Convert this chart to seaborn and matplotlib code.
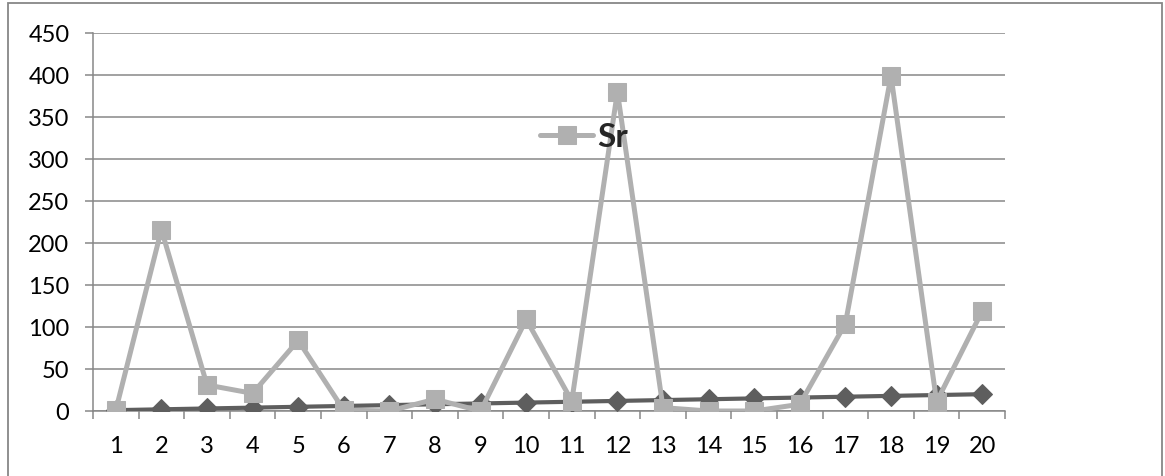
import matplotlib
matplotlib.use("Agg")
import matplotlib.pyplot as plt
from matplotlib.patches import Rectangle
import numpy as np
import pandas as pd
import seaborn as sns

# Sample numbers and the two measured series
samples = list(range(1, 21))
base_values = [1, 2, 3, 4, 5, 6, 7, 8, 9, 10, 11, 12, 13, 14, 15, 16, 17, 18, 19, 20]
sr_values = [1, 216, 31, 21, 84, 1, 0, 14, 0, 109, 12, 380, 4, 0, 0, 8, 104, 399, 11, 119]
y_ticks = [0, 50, 100, 150, 200, 250, 300, 350, 400, 450]

sns.set_theme(style="white")
plt.rcParams["font.family"] = ["Lato", "DejaVu Sans"]

grid_col = "#878787"
dark_col = "#5e5e5e"
light_col = "#b0b0b0"

df = pd.DataFrame({"sample": samples, "base": base_values, "Sr": sr_values})

fig = plt.figure(figsize=(11.65, 4.77), dpi=100)
ax = fig.add_axes([93 / 1165, 1 - 412 / 477, 912 / 1165, 378 / 477])

# Outer chart frame
fig.patches.append(Rectangle((8 / 1165, -0.1), 1154 / 1165, 1.1 - 4 / 477,
                             transform=fig.transFigure, fill=False,
                             edgecolor=grid_col, linewidth=1.3, zorder=0))

sns.lineplot(data=df, x="sample", y="base", ax=ax, color=dark_col,
             linewidth=3.0, marker="D", markersize=10.5,
             markeredgecolor=dark_col, legend=False, zorder=3)
sns.lineplot(data=df, x="sample", y="Sr", ax=ax, color=light_col,
             linewidth=3.6, marker="s", markersize=13.5,
             markeredgecolor=light_col, label="Sr", zorder=4)

ax.set_xlim(0.5, 20.5)
ax.set_ylim(0, 450)
ax.set_yticks(y_ticks)
ax.set_xticks(samples)
ax.set_xticks(np.arange(0.5, 21, 1.0), minor=True)
ax.set_xlabel("")
ax.set_ylabel("")

ax.yaxis.grid(True, color=grid_col, linewidth=1.1)
ax.xaxis.grid(False)
ax.set_axisbelow(True)

for side in ["top", "right"]:
    ax.spines[side].set_visible(False)
for side in ["left", "bottom"]:
    ax.spines[side].set_color(grid_col)
    ax.spines[side].set_linewidth(1.1)

ax.tick_params(axis="y", which="major", direction="out", length=6,
               width=1.1, color=grid_col, pad=11, labelsize=17,
               labelcolor="black", left=True)
ax.tick_params(axis="x", which="major", length=0, pad=17,
               labelsize=17, labelcolor="black")
ax.tick_params(axis="x", which="minor", direction="out", length=6,
               width=1.1, color=grid_col, bottom=True)

leg = ax.legend(loc="center left", bbox_to_anchor=((540 - 93) / 912, (412 - 138) / 378),
                frameon=False, borderpad=0, borderaxespad=0,
                handlelength=1.6, handletextpad=0.12,
                prop={"size": 24, "weight": "bold"})

fig.savefig("out.png", dpi=100, facecolor="white")
